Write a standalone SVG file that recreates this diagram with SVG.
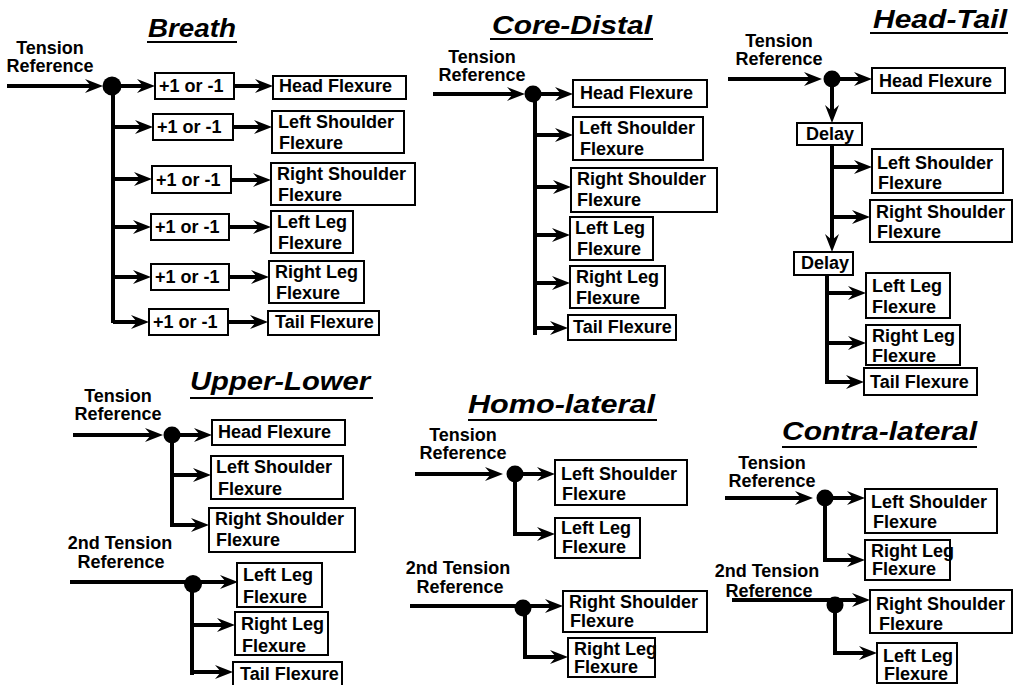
<svg xmlns="http://www.w3.org/2000/svg" width="1013" height="685" viewBox="0 0 1013 685">
<style>
.t{font-family:"Liberation Sans",Arial,sans-serif;font-weight:bold;font-size:18px;fill:#000}
.m{text-anchor:middle}
.ti{font-family:"Liberation Sans",Arial,sans-serif;font-weight:bold;font-style:italic;font-size:26px;fill:#000}
.ul{stroke:#000;stroke-width:2}
.box{fill:#fff;stroke:#000;stroke-width:2}
.ln{fill:none;stroke:#000;stroke-width:4;stroke-linejoin:miter}
.ar{marker-end:url(#ah)}
.dot{fill:#000}
</style>
<defs>
<marker id="ah" markerUnits="userSpaceOnUse" viewBox="0 0 18 14" markerWidth="18" markerHeight="14" refX="9" refY="7" orient="auto"><path d="M0,0 L18,7 L0,14 L6,7 Z" fill="#000"/></marker>
</defs>
<rect width="1013" height="685" fill="#fff"/>

<!-- Titles -->
<g id="titles">
<text class="ti" x="148" y="37" textLength="88" lengthAdjust="spacingAndGlyphs">Breath</text><line class="ul" x1="147" y1="42" x2="237" y2="42"/>
<text class="ti" x="492" y="34" textLength="160" lengthAdjust="spacingAndGlyphs">Core-Distal</text><line class="ul" x1="490" y1="39" x2="653" y2="39"/>
<text class="ti" x="873" y="28" textLength="134" lengthAdjust="spacingAndGlyphs">Head-Tail</text><line class="ul" x1="870" y1="33" x2="1008" y2="33"/>
<text class="ti" x="190" y="390" textLength="180" lengthAdjust="spacingAndGlyphs">Upper-Lower</text><line class="ul" x1="190" y1="398" x2="373" y2="398"/>
<text class="ti" x="468" y="413" textLength="187" lengthAdjust="spacingAndGlyphs">Homo-lateral</text><line class="ul" x1="468" y1="420" x2="657" y2="420"/>
<text class="ti" x="782" y="440" textLength="195" lengthAdjust="spacingAndGlyphs">Contra-lateral</text><line class="ul" x1="782" y1="447" x2="977" y2="447"/>
</g>

<!-- Input labels -->
<g id="labels">
<text class="t m" x="50" y="54">Tension</text><text class="t m" x="50" y="72">Reference</text>
<text class="t m" x="482" y="63">Tension</text><text class="t m" x="482" y="81">Reference</text>
<text class="t m" x="779" y="47">Tension</text><text class="t m" x="779" y="65">Reference</text>
<text class="t m" x="118" y="402">Tension</text><text class="t m" x="118" y="420">Reference</text>
<text class="t m" x="120" y="549">2nd Tension</text><text class="t m" x="121" y="568">Reference</text>
<text class="t m" x="463" y="441">Tension</text><text class="t m" x="463" y="459">Reference</text>
<text class="t m" x="458" y="574">2nd Tension</text><text class="t m" x="460" y="593">Reference</text>
<text class="t m" x="772" y="469">Tension</text><text class="t m" x="772" y="487">Reference</text>
<text class="t m" x="767" y="577">2nd Tension</text><text class="t m" x="769" y="597">Reference</text>
</g>

<!-- Connectors -->
<g id="connectors">
<!-- Breath -->
<path class="ln ar" d="M7,86 H94"/>
<path class="ln" d="M113,86 V323"/>
<path class="ln ar" d="M113,86 H146"/>
<path class="ln ar" d="M113,127 H144"/>
<path class="ln ar" d="M113,179 H143"/>
<path class="ln ar" d="M113,227 H142"/>
<path class="ln ar" d="M113,277 H142"/>
<path class="ln ar" d="M113,322 H140"/>
<path class="ln ar" d="M234,86 H264"/>
<path class="ln ar" d="M233,127 H263"/>
<path class="ln ar" d="M231,180 H262"/>
<path class="ln ar" d="M229,227 H262"/>
<path class="ln ar" d="M229,277 H260"/>
<path class="ln ar" d="M228,322 H259"/>
<!-- Core-Distal -->
<path class="ln ar" d="M433,94 H516"/>
<path class="ln" d="M535,94 V335"/>
<path class="ln ar" d="M540,94 H564"/>
<path class="ln ar" d="M535,135 H564"/>
<path class="ln ar" d="M535,187 H562"/>
<path class="ln ar" d="M535,235 H561"/>
<path class="ln ar" d="M535,283 H561"/>
<path class="ln ar" d="M535,328 H559"/>
<!-- Head-Tail -->
<path class="ln ar" d="M728,79 H813"/>
<path class="ln ar" d="M840,79 H863"/>
<path class="ln ar" d="M832,79 V114"/>
<path class="ln ar" d="M832,145 V243"/>
<path class="ln ar" d="M832,167 H863"/>
<path class="ln ar" d="M832,217 H861"/>
<path class="ln ar" d="M827,275 V382 H855"/>
<path class="ln ar" d="M827,293 H857"/>
<path class="ln ar" d="M827,343 H857"/>
<!-- Upper-Lower -->
<path class="ln ar" d="M73,435 H154"/>
<path class="ln ar" d="M180,435 H203"/>
<path class="ln ar" d="M172,435 V525 H200"/>
<path class="ln ar" d="M172,475 H202"/>
<path class="ln ar" d="M70,582 H229"/>
<path class="ln" d="M192,584 V675"/>
<path class="ln ar" d="M192,625 H226"/>
<path class="ln ar" d="M192,672 H224"/>
<!-- Homo-lateral -->
<path class="ln ar" d="M415,474 H494"/>
<path class="ln ar" d="M523,474 H546"/>
<path class="ln ar" d="M515,474 V534 H546"/>
<path class="ln ar" d="M410,606 H554"/>
<path class="ln ar" d="M525,608 V657 H559"/>
<!-- Contra-lateral -->
<path class="ln ar" d="M725,498 H804"/>
<path class="ln ar" d="M833,498 H856"/>
<path class="ln ar" d="M825,498 V560 H856"/>
<path class="ln ar" d="M732,600 H861"/>
<path class="ln ar" d="M835,605 V653 H868"/>
</g>

<!-- Junctions -->
<g id="junctions">
<circle class="dot" cx="112" cy="86" r="9.5"/>
<circle class="dot" cx="533" cy="94" r="8.5"/>
<circle class="dot" cx="832" cy="79" r="8.5"/>
<circle class="dot" cx="172" cy="435" r="8.5"/>
<circle class="dot" cx="193" cy="584" r="9"/>
<circle class="dot" cx="515" cy="474" r="8.5"/>
<circle class="dot" cx="523" cy="608" r="8.5"/>
<circle class="dot" cx="825" cy="498" r="8.5"/>
<circle class="dot" cx="835" cy="605" r="8.5"/>
</g>

<!-- Breath nodes -->
<g id="br-sign1"><rect class="box" x="155" y="73" width="79" height="26"/><text class="t" x="159" y="92">+1 or -1</text></g>
<g id="br-sign2"><rect class="box" x="153" y="114" width="80" height="26"/><text class="t" x="157" y="133">+1 or -1</text></g>
<g id="br-sign3"><rect class="box" x="152" y="166" width="79" height="27"/><text class="t" x="156" y="186">+1 or -1</text></g>
<g id="br-sign4"><rect class="box" x="151" y="214" width="78" height="26"/><text class="t" x="155" y="233">+1 or -1</text></g>
<g id="br-sign5"><rect class="box" x="151" y="264" width="78" height="26"/><text class="t" x="155" y="283">+1 or -1</text></g>
<g id="br-sign6"><rect class="box" x="149" y="309" width="79" height="26"/><text class="t" x="153" y="328">+1 or -1</text></g>
<g id="br-head"><rect class="box" x="273" y="76" width="133" height="23"/><text class="t" x="279" y="92">Head Flexure</text></g>
<g id="br-ls"><rect class="box" x="272" y="111" width="132" height="42"/><text class="t" x="278" y="128">Left Shoulder</text><text class="t" x="279" y="149">Flexure</text></g>
<g id="br-rs"><rect class="box" x="271" y="163" width="144" height="42"/><text class="t" x="277" y="180">Right Shoulder</text><text class="t" x="278" y="201">Flexure</text></g>
<g id="br-ll"><rect class="box" x="271" y="211" width="82" height="42"/><text class="t" x="277" y="228">Left Leg</text><text class="t" x="278" y="249">Flexure</text></g>
<g id="br-rl"><rect class="box" x="269" y="261" width="95" height="42"/><text class="t" x="275" y="278">Right Leg</text><text class="t" x="276" y="299">Flexure</text></g>
<g id="br-tail"><rect class="box" x="268" y="311" width="111" height="24"/><text class="t" x="275" y="328">Tail Flexure</text></g>

<!-- Core-Distal nodes -->
<g id="cd-head"><rect class="box" x="573" y="80" width="134" height="27"/><text class="t" x="580" y="99">Head Flexure</text></g>
<g id="cd-ls"><rect class="box" x="573" y="117" width="130" height="43"/><text class="t" x="579" y="134">Left Shoulder</text><text class="t" x="580" y="155">Flexure</text></g>
<g id="cd-rs"><rect class="box" x="571" y="168" width="146" height="44"/><text class="t" x="577" y="185">Right Shoulder</text><text class="t" x="577" y="206">Flexure</text></g>
<g id="cd-ll"><rect class="box" x="570" y="217" width="83" height="43"/><text class="t" x="575" y="234">Left Leg</text><text class="t" x="577" y="255">Flexure</text></g>
<g id="cd-rl"><rect class="box" x="570" y="266" width="95" height="42"/><text class="t" x="576" y="283">Right Leg</text><text class="t" x="576" y="304">Flexure</text></g>
<g id="cd-tail"><rect class="box" x="568" y="315" width="108" height="25"/><text class="t" x="573" y="333">Tail Flexure</text></g>

<!-- Head-Tail nodes -->
<g id="ht-head"><rect class="box" x="872" y="68" width="133" height="25"/><text class="t" x="879" y="87">Head Flexure</text></g>
<g id="ht-delay1"><rect class="box" x="797" y="123" width="65" height="22"/><text class="t" x="806" y="140">Delay</text></g>
<g id="ht-ls"><rect class="box" x="872" y="149" width="131" height="44"/><text class="t" x="877" y="169">Left Shoulder</text><text class="t" x="878" y="189">Flexure</text></g>
<g id="ht-rs"><rect class="box" x="870" y="200" width="142" height="42"/><text class="t" x="876" y="218">Right Shoulder</text><text class="t" x="877" y="238">Flexure</text></g>
<g id="ht-delay2"><rect class="box" x="794" y="252" width="59" height="23"/><text class="t" x="801" y="269">Delay</text></g>
<g id="ht-ll"><rect class="box" x="866" y="273" width="84" height="45"/><text class="t" x="872" y="292">Left Leg</text><text class="t" x="872" y="313">Flexure</text></g>
<g id="ht-rl"><rect class="box" x="866" y="325" width="94" height="40"/><text class="t" x="872" y="342">Right Leg</text><text class="t" x="872" y="362">Flexure</text></g>
<g id="ht-tail"><rect class="box" x="864" y="368" width="113" height="27"/><text class="t" x="870" y="388">Tail Flexure</text></g>

<!-- Upper-Lower nodes -->
<g id="ul-head"><rect class="box" x="212" y="420" width="133" height="25"/><text class="t" x="218" y="438">Head Flexure</text></g>
<g id="ul-ls"><rect class="box" x="211" y="456" width="132" height="43"/><text class="t" x="216" y="473">Left Shoulder</text><text class="t" x="218" y="495">Flexure</text></g>
<g id="ul-rs"><rect class="box" x="209" y="508" width="146" height="44"/><text class="t" x="215" y="525">Right Shoulder</text><text class="t" x="216" y="546">Flexure</text></g>
<g id="ul-ll"><rect class="box" x="237" y="563" width="85" height="44"/><text class="t" x="243" y="581">Left Leg</text><text class="t" x="243" y="603">Flexure</text></g>
<g id="ul-rl"><rect class="box" x="235" y="612" width="93" height="43"/><text class="t" x="241" y="630">Right Leg</text><text class="t" x="242" y="652">Flexure</text></g>
<g id="ul-tail"><rect class="box" x="233" y="662" width="109" height="30"/><text class="t" x="240" y="680">Tail Flexure</text></g>

<!-- Homo-lateral nodes -->
<g id="hl-ls"><rect class="box" x="555" y="460" width="132" height="45"/><text class="t" x="561" y="480">Left Shoulder</text><text class="t" x="562" y="500">Flexure</text></g>
<g id="hl-ll"><rect class="box" x="555" y="518" width="85" height="40"/><text class="t" x="561" y="534">Left Leg</text><text class="t" x="562" y="553">Flexure</text></g>
<g id="hl-rs"><rect class="box" x="563" y="591" width="144" height="41"/><text class="t" x="569" y="608">Right Shoulder</text><text class="t" x="570" y="627">Flexure</text></g>
<g id="hl-rl"><rect class="box" x="568" y="638" width="87" height="39"/><text class="t" x="574" y="655">Right Leg</text><text class="t" x="574" y="673">Flexure</text></g>

<!-- Contra-lateral nodes -->
<g id="cl-ls"><rect class="box" x="865" y="489" width="132" height="44"/><text class="t" x="871" y="508">Left Shoulder</text><text class="t" x="873" y="528">Flexure</text></g>
<g id="cl-rl"><rect class="box" x="865" y="540" width="85" height="40"/><text class="t" x="871" y="557">Right Leg</text><text class="t" x="872" y="575">Flexure</text></g>
<g id="cl-rs"><rect class="box" x="870" y="590" width="142" height="43"/><text class="t" x="876" y="610">Right Shoulder</text><text class="t" x="879" y="630">Flexure</text></g>
<g id="cl-ll"><rect class="box" x="877" y="643" width="80" height="40"/><text class="t" x="883" y="662">Left Leg</text><text class="t" x="884" y="680">Flexure</text></g>
</svg>
